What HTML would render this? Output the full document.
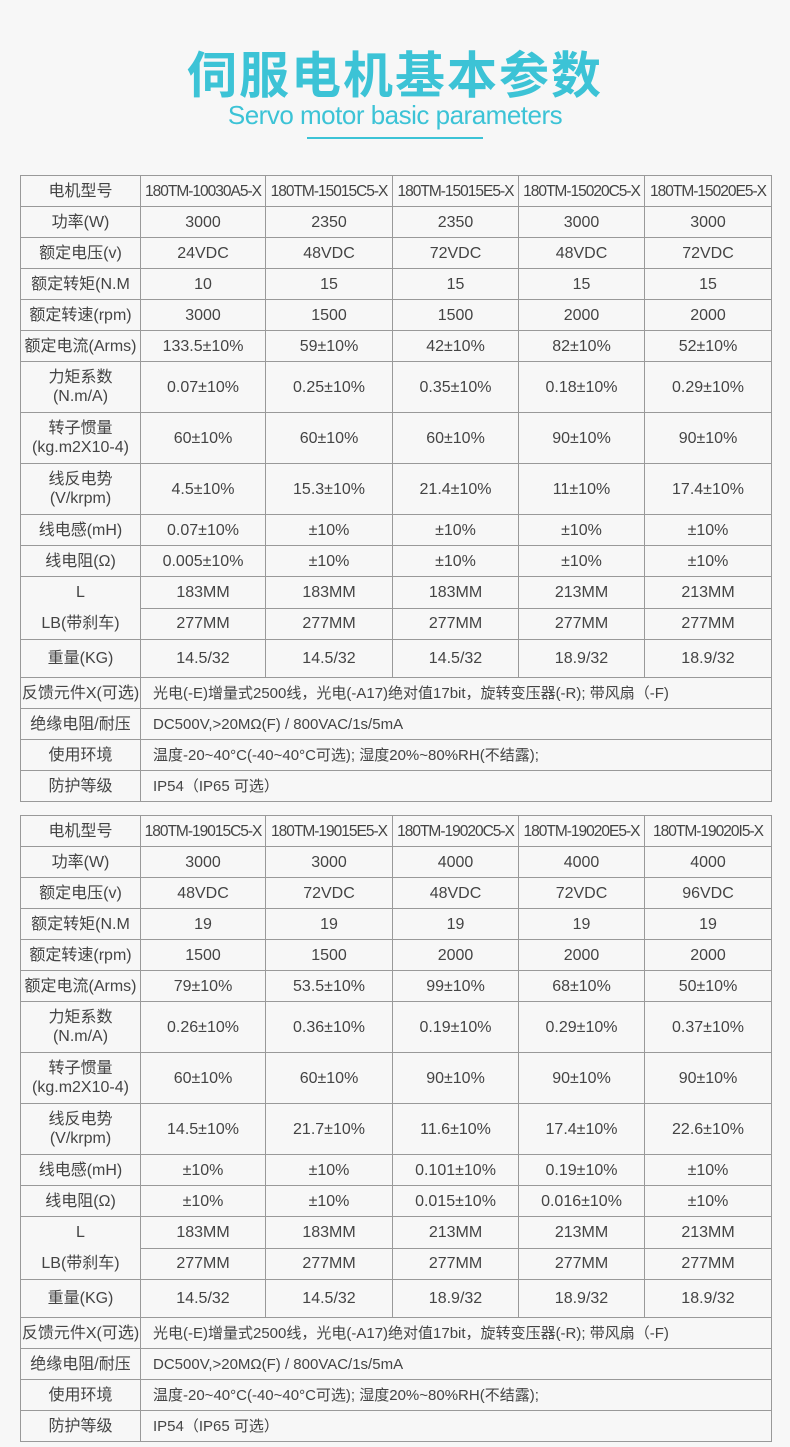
<!DOCTYPE html>
<html><head><meta charset="utf-8"><style>
body{margin:0;background:#f7f7f7;width:790px;height:1447px;overflow:hidden;font-family:"Liberation Sans","Noto Sans CJK SC",sans-serif;color:#444}
.t1{position:absolute;top:40px;left:0;width:790px;text-align:center;font-size:50px;font-weight:bold;line-height:64px;color:#3cc3d6;font-family:"Noto Sans CJK SC",sans-serif;letter-spacing:2px}
.t2{position:absolute;top:98px;left:0;width:790px;text-align:center;font-size:26px;line-height:34px;color:#3cc3d6;letter-spacing:-0.5px}
.ln{position:absolute;top:137px;left:307px;width:176px;height:2px;background:#3cc3d6}
table{position:absolute;left:20px;border-collapse:collapse;table-layout:fixed;width:751px}
td{border:1px solid #999;text-align:center;font-size:16px;padding:0;line-height:19px;white-space:nowrap;overflow:hidden}
td.m{font-size:15.5px;letter-spacing:-1px}
td.l{text-align:left;padding-left:12px;font-size:15px}
tr.a{height:31px} tr.b{height:51px} tr.c{height:38px}
</style></head><body>
<div class="t1">伺服电机基本参数</div>
<div class="t2">Servo motor basic parameters</div>
<div class="ln"></div>

<table style="top:175px">
<colgroup><col style="width:120px"><col style="width:125px"><col style="width:127px"><col style="width:126px"><col style="width:126px"><col style="width:127px"></colgroup>
<tr class="a"><td>电机型号</td><td class="m">180TM-10030A5-X</td><td class="m">180TM-15015C5-X</td><td class="m">180TM-15015E5-X</td><td class="m">180TM-15020C5-X</td><td class="m">180TM-15020E5-X</td></tr>
<tr class="a"><td>功率(W)</td><td>3000</td><td>2350</td><td>2350</td><td>3000</td><td>3000</td></tr>
<tr class="a"><td>额定电压(v)</td><td>24VDC</td><td>48VDC</td><td>72VDC</td><td>48VDC</td><td>72VDC</td></tr>
<tr class="a"><td>额定转矩(N.M</td><td>10</td><td>15</td><td>15</td><td>15</td><td>15</td></tr>
<tr class="a"><td>额定转速(rpm)</td><td>3000</td><td>1500</td><td>1500</td><td>2000</td><td>2000</td></tr>
<tr class="a"><td>额定电流(Arms)</td><td>133.5±10%</td><td>59±10%</td><td>42±10%</td><td>82±10%</td><td>52±10%</td></tr>
<tr class="b"><td>力矩系数<br>(N.m/A)</td><td>0.07±10%</td><td>0.25±10%</td><td>0.35±10%</td><td>0.18±10%</td><td>0.29±10%</td></tr>
<tr class="b"><td>转子惯量<br>(kg.m2X10-4)</td><td>60±10%</td><td>60±10%</td><td>60±10%</td><td>90±10%</td><td>90±10%</td></tr>
<tr class="b"><td>线反电势<br>(V/krpm)</td><td>4.5±10%</td><td>15.3±10%</td><td>21.4±10%</td><td>11±10%</td><td>17.4±10%</td></tr>
<tr class="a"><td>线电感(mH)</td><td>0.07±10%</td><td>±10%</td><td>±10%</td><td>±10%</td><td>±10%</td></tr>
<tr class="a"><td>线电阻(Ω)</td><td>0.005±10%</td><td>±10%</td><td>±10%</td><td>±10%</td><td>±10%</td></tr>
<tr class="a"><td rowspan="2" style="line-height:31px">L<br>LB(带刹车)</td><td>183MM</td><td>183MM</td><td>183MM</td><td>213MM</td><td>213MM</td></tr>
<tr class="a"><td>277MM</td><td>277MM</td><td>277MM</td><td>277MM</td><td>277MM</td></tr>
<tr class="c"><td>重量(KG)</td><td>14.5/32</td><td>14.5/32</td><td>14.5/32</td><td>18.9/32</td><td>18.9/32</td></tr>
<tr class="a"><td>反馈元件X(可选)</td><td colspan="5" class="l">光电(-E)增量式2500线，光电(-A17)绝对值17bit，旋转变压器(-R); 带风扇（-F)</td></tr>
<tr class="a"><td>绝缘电阻/耐压</td><td colspan="5" class="l">DC500V,&gt;20MΩ(F) / 800VAC/1s/5mA</td></tr>
<tr class="a"><td>使用环境</td><td colspan="5" class="l">温度-20~40°C(-40~40°C可选); 湿度20%~80%RH(不结露);</td></tr>
<tr class="a"><td>防护等级</td><td colspan="5" class="l">IP54（IP65 可选）</td></tr>
</table>

<table style="top:815px">
<colgroup><col style="width:120px"><col style="width:125px"><col style="width:127px"><col style="width:126px"><col style="width:126px"><col style="width:127px"></colgroup>
<tr class="a"><td>电机型号</td><td class="m">180TM-19015C5-X</td><td class="m">180TM-19015E5-X</td><td class="m">180TM-19020C5-X</td><td class="m">180TM-19020E5-X</td><td class="m">180TM-19020I5-X</td></tr>
<tr class="a"><td>功率(W)</td><td>3000</td><td>3000</td><td>4000</td><td>4000</td><td>4000</td></tr>
<tr class="a"><td>额定电压(v)</td><td>48VDC</td><td>72VDC</td><td>48VDC</td><td>72VDC</td><td>96VDC</td></tr>
<tr class="a"><td>额定转矩(N.M</td><td>19</td><td>19</td><td>19</td><td>19</td><td>19</td></tr>
<tr class="a"><td>额定转速(rpm)</td><td>1500</td><td>1500</td><td>2000</td><td>2000</td><td>2000</td></tr>
<tr class="a"><td>额定电流(Arms)</td><td>79±10%</td><td>53.5±10%</td><td>99±10%</td><td>68±10%</td><td>50±10%</td></tr>
<tr class="b"><td>力矩系数<br>(N.m/A)</td><td>0.26±10%</td><td>0.36±10%</td><td>0.19±10%</td><td>0.29±10%</td><td>0.37±10%</td></tr>
<tr class="b"><td>转子惯量<br>(kg.m2X10-4)</td><td>60±10%</td><td>60±10%</td><td>90±10%</td><td>90±10%</td><td>90±10%</td></tr>
<tr class="b"><td>线反电势<br>(V/krpm)</td><td>14.5±10%</td><td>21.7±10%</td><td>11.6±10%</td><td>17.4±10%</td><td>22.6±10%</td></tr>
<tr class="a"><td>线电感(mH)</td><td>±10%</td><td>±10%</td><td>0.101±10%</td><td>0.19±10%</td><td>±10%</td></tr>
<tr class="a"><td>线电阻(Ω)</td><td>±10%</td><td>±10%</td><td>0.015±10%</td><td>0.016±10%</td><td>±10%</td></tr>
<tr class="a"><td rowspan="2" style="line-height:31px">L<br>LB(带刹车)</td><td>183MM</td><td>183MM</td><td>213MM</td><td>213MM</td><td>213MM</td></tr>
<tr class="a"><td>277MM</td><td>277MM</td><td>277MM</td><td>277MM</td><td>277MM</td></tr>
<tr class="c"><td>重量(KG)</td><td>14.5/32</td><td>14.5/32</td><td>18.9/32</td><td>18.9/32</td><td>18.9/32</td></tr>
<tr class="a"><td>反馈元件X(可选)</td><td colspan="5" class="l">光电(-E)增量式2500线，光电(-A17)绝对值17bit，旋转变压器(-R); 带风扇（-F)</td></tr>
<tr class="a"><td>绝缘电阻/耐压</td><td colspan="5" class="l">DC500V,&gt;20MΩ(F) / 800VAC/1s/5mA</td></tr>
<tr class="a"><td>使用环境</td><td colspan="5" class="l">温度-20~40°C(-40~40°C可选); 湿度20%~80%RH(不结露);</td></tr>
<tr class="a"><td>防护等级</td><td colspan="5" class="l">IP54（IP65 可选）</td></tr>
</table>
</body></html>
